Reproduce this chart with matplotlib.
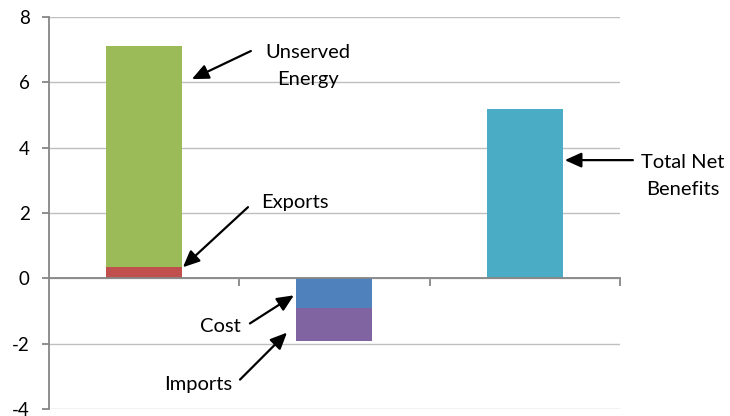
"""Net benefits breakdown chart."""

import matplotlib

matplotlib.use("Agg")

import matplotlib.pyplot as plt
import numpy as np

plt.rcParams["font.family"] = ["Lato", "DejaVu Sans"]

positions = [0, 1, 2]
unserved_energy = [6.75, 0.0, 0.0]
exports = [0.35, 0.0, 0.0]
cost = [0.0, -0.92, 0.0]
imports = [0.0, -1.0, 0.0]
total_net_benefits = [0.0, 0.0, 5.2]
y_ticks = [-4, -2, 0, 2, 4, 6, 8]

fig = plt.figure(figsize=(7.3, 4.16), dpi=100)
ax = fig.add_axes([0.0671, 0.0168, 0.849 - 0.0671, 0.959 - 0.0168])

width = 0.4
ax.bar(positions, exports, width, color="#C0504D", zorder=2)
ax.bar(positions, unserved_energy, width, bottom=exports, color="#9BBB59", zorder=2)
ax.bar(positions, cost, width, color="#4F81BD", zorder=2)
ax.bar(positions, imports, width, bottom=cost, color="#8064A2", zorder=2)
ax.bar(positions, total_net_benefits, width, color="#4BACC6", zorder=2)

ax.set_xlim(-0.5, 2.5)
ax.set_ylim(-4, 8)
ax.set_yticks(y_ticks)
ax.set_yticklabels([str(t) for t in y_ticks])
ax.yaxis.grid(True, color="#BFBFBF", linewidth=1.0, zorder=0)
ax.set_axisbelow(True)

for side in ("top", "right"):
    ax.spines[side].set_visible(False)
ax.spines["left"].set_color("#868686")
ax.spines["left"].set_linewidth(1.3)
ax.spines["bottom"].set_position(("data", 0))
ax.spines["bottom"].set_color("#868686")
ax.spines["bottom"].set_linewidth(1.3)
ax.spines["bottom"].set_zorder(3)

ax.set_xticks([0.5, 1.5, 2.5])
ax.set_xticklabels([])
ax.tick_params(axis="x", direction="out", length=6, color="#868686", width=1.3)
ax.tick_params(axis="y", direction="out", length=5, color="#868686", width=1.3, labelsize=13.5, pad=9)

arrow_style = dict(arrowstyle="-|>,head_length=1.0,head_width=0.45", color="black", lw=1.6, shrinkA=0, shrinkB=0)
label_size = 14.5

ax.annotate("", xy=(0.251, 6.1), xytext=(0.561, 6.96), arrowprops=arrow_style)
ax.text(0.861, 6.5, "Unserved\nEnergy", ha="center", va="center", fontsize=label_size, linespacing=1.7, zorder=1)

ax.annotate("", xy=(0.204, 0.34), xytext=(0.546, 2.18), arrowprops=arrow_style)
ax.text(0.793, 2.33, "Exports", ha="center", va="center", fontsize=label_size)

ax.annotate("", xy=(0.787, -0.52), xytext=(0.556, -1.38), arrowprops=arrow_style)
ax.text(0.399, -1.47, "Cost", ha="center", va="center", fontsize=label_size)

ax.annotate("", xy=(0.751, -1.66), xytext=(0.504, -3.1), arrowprops=arrow_style)
ax.text(0.283, -3.25, "Imports", ha="center", va="center", fontsize=label_size)

ax.annotate("", xy=(2.211, 3.62), xytext=(2.569, 3.62), arrowprops=arrow_style, annotation_clip=False)
ax.text(2.832, 3.13, "Total Net\nBenefits", ha="center", va="center", fontsize=label_size, linespacing=1.7)

fig.savefig("out.png", dpi=100)
plt.close(fig)
